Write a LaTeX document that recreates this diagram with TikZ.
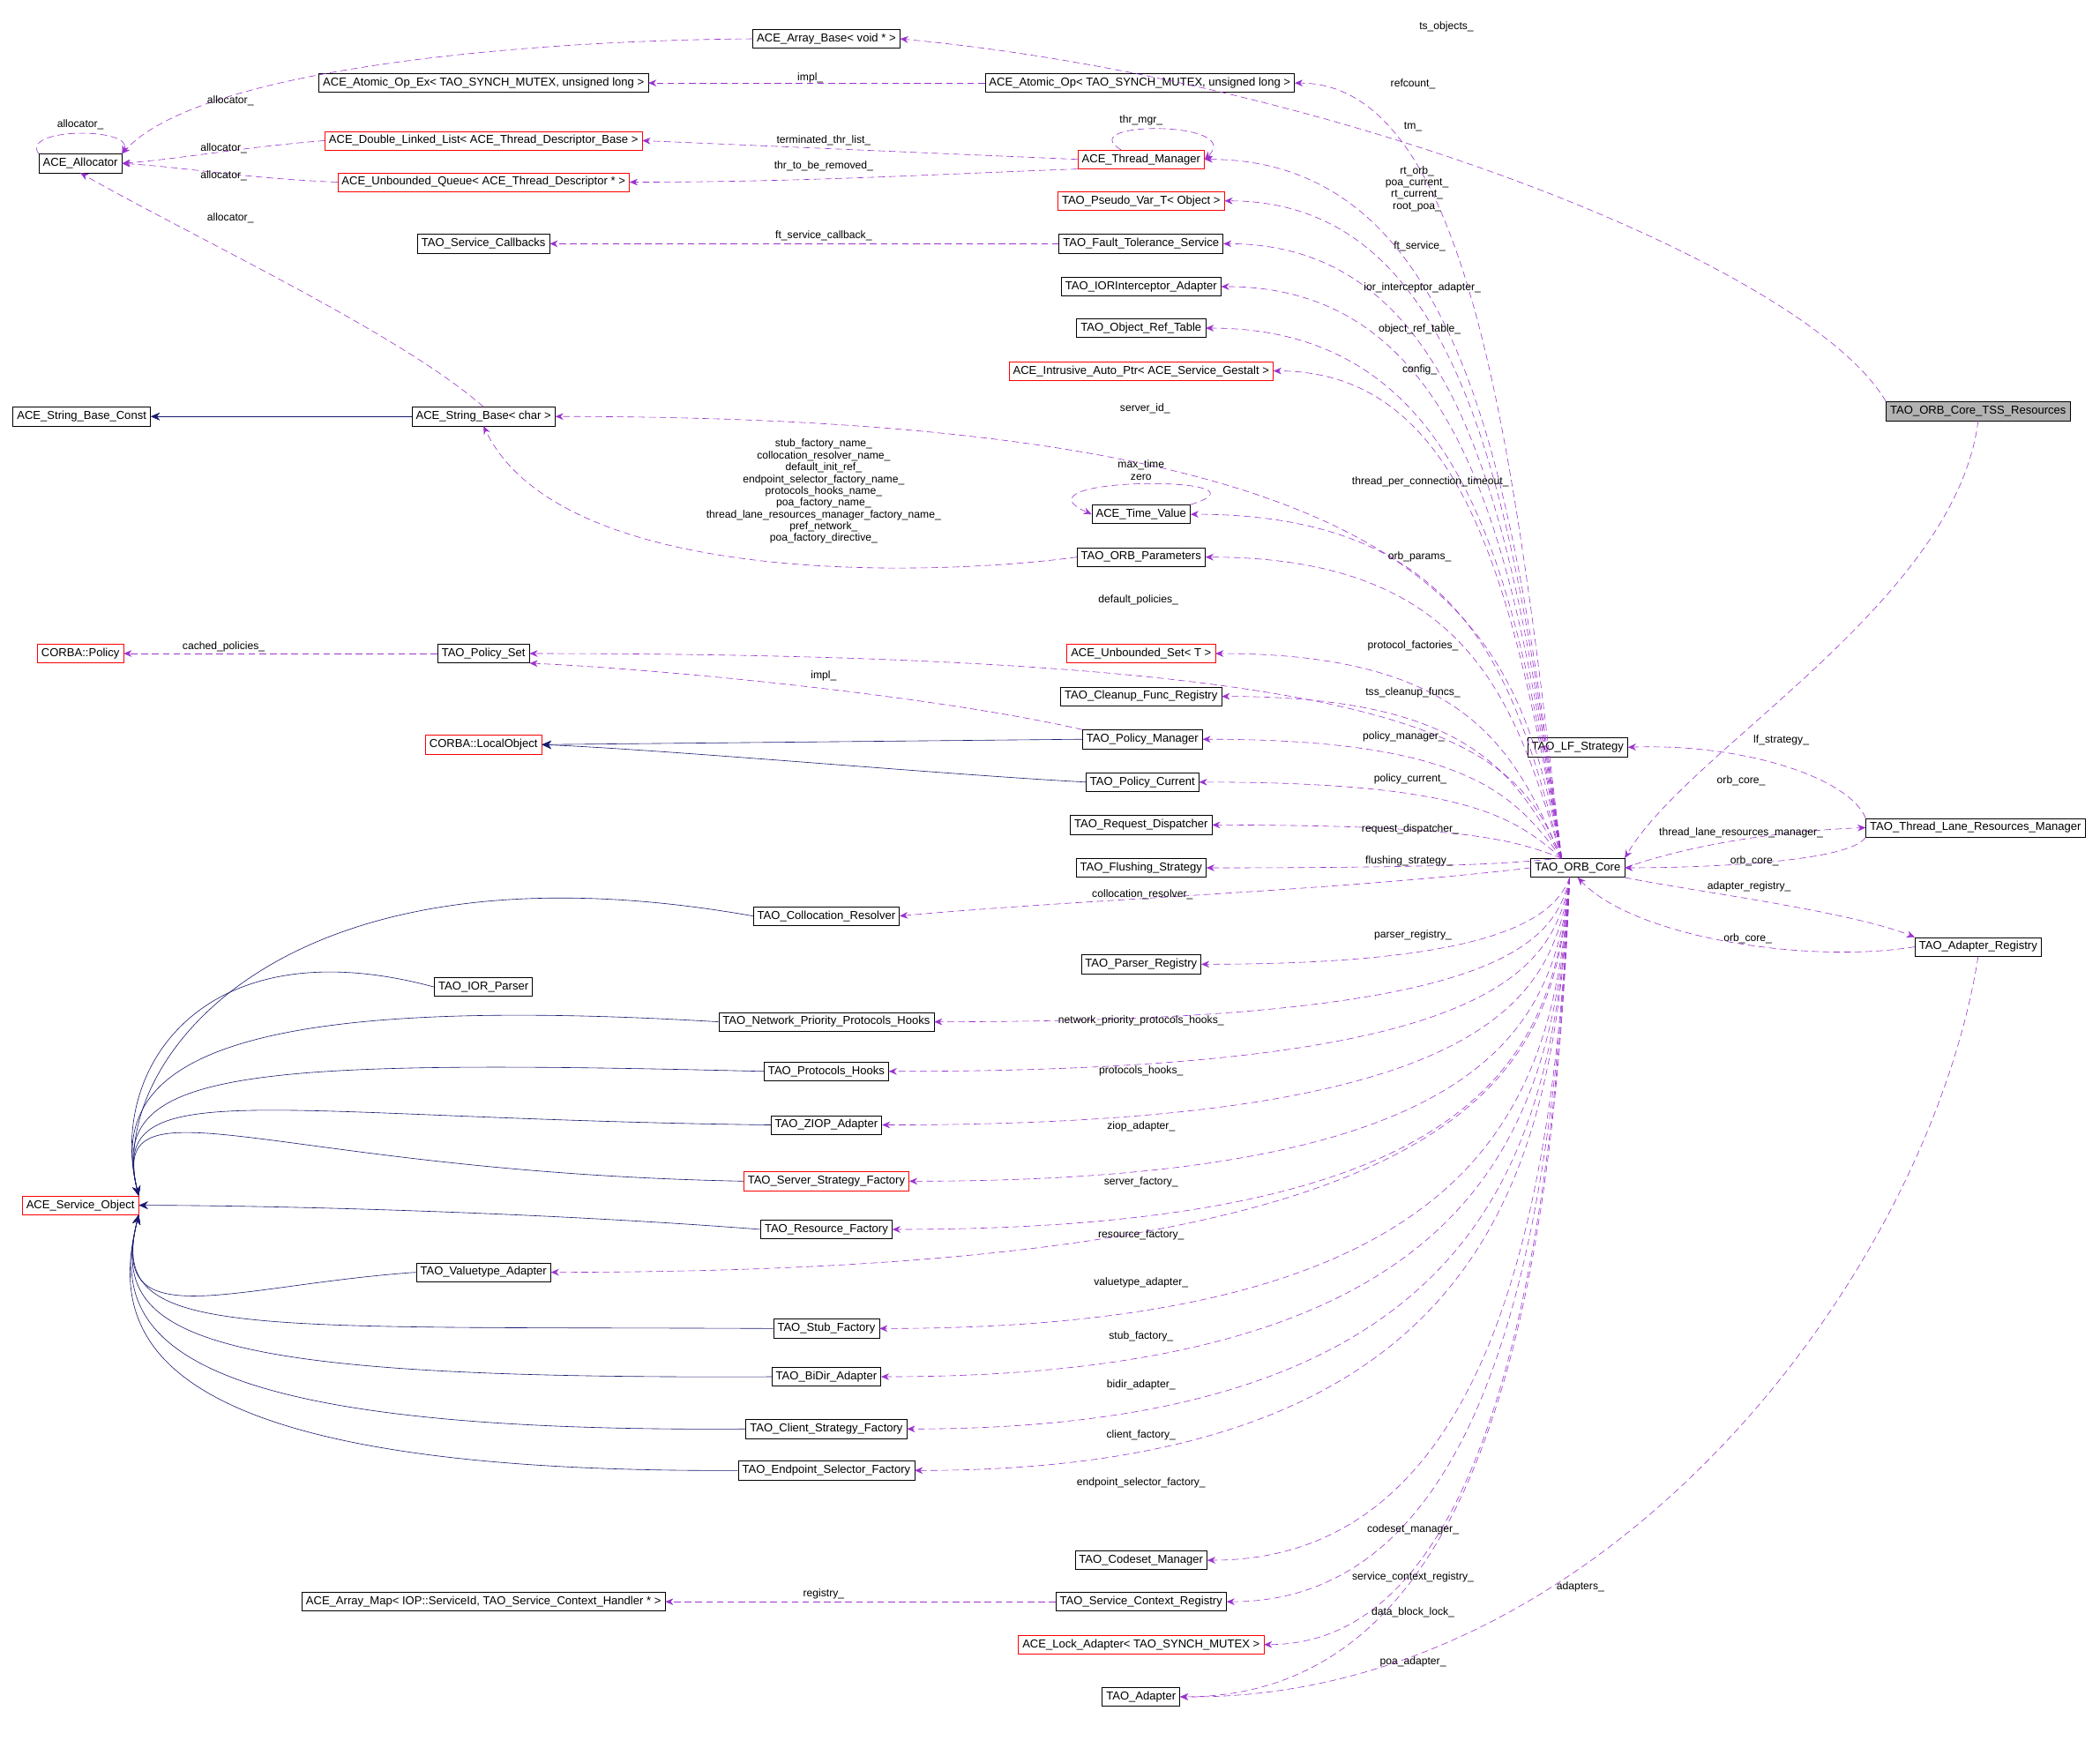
\documentclass[tikz,border=0pt]{standalone}
\usepackage{fontspec}
\setmainfont{Liberation Sans}
\usetikzlibrary{arrows.meta}
\definecolor{dep}{HTML}{9A32CD}
\definecolor{inh}{HTML}{191970}
\tikzset{
 bx/.style={draw=black,fill=white,font=\fontsize{8.6}{9.5}\selectfont,inner xsep=3pt,inner ysep=1pt,minimum height=14pt},
 rbx/.style={bx,draw=red},
 gbx/.style={bx,fill=black!30},
 dep/.style={draw=dep,dash pattern=on 5pt off 3pt,-{Stealth[length=6pt,width=5pt]}},
 inh/.style={draw=inh,-{Stealth[length=7pt,width=6pt]}},
 lb/.style={font=\fontsize{8}{8.8}\selectfont,inner sep=0.5pt,align=center}
}
\begin{document}
\begin{tikzpicture}[x=1pt,y=-1pt]
\useasboundingbox (0,0) rectangle (1568,1305);
% nodes
\node[bx] (arrbase) at (617,29) {ACE\_Array\_Base< void * >};
\node[bx] (atomex) at (361,62) {ACE\_Atomic\_Op\_Ex< TAO\_SYNCH\_MUTEX, unsigned long >};
\node[bx] (atom) at (851,62) {ACE\_Atomic\_Op< TAO\_SYNCH\_MUTEX, unsigned long >};
\node[bx] (alloc) at (60,122) {ACE\_Allocator};
\node[rbx] (dll) at (361,105) {ACE\_Double\_Linked\_List< ACE\_Thread\_Descriptor\_Base >};
\node[rbx] (uq) at (361,136) {ACE\_Unbounded\_Queue< ACE\_Thread\_Descriptor * >};
\node[rbx] (tm) at (852,119) {ACE\_Thread\_Manager};
\node[rbx] (pv) at (852,150) {TAO\_Pseudo\_Var\_T< Object >};
\node[bx] (scb) at (361,182) {TAO\_Service\_Callbacks};
\node[bx] (ft) at (852,182) {TAO\_Fault\_Tolerance\_Service};
\node[bx] (ior) at (852,214) {TAO\_IORInterceptor\_Adapter};
\node[bx] (ort) at (852,245) {TAO\_Object\_Ref\_Table};
\node[rbx] (iap) at (852,277) {ACE\_Intrusive\_Auto\_Ptr< ACE\_Service\_Gestalt >};
\node[bx] (sbc) at (61,311) {ACE\_String\_Base\_Const};
\node[bx] (sb) at (361,311) {ACE\_String\_Base< char >};
\node[gbx] (tss) at (1477,307) {TAO\_ORB\_Core\_TSS\_Resources};
\node[bx] (tv) at (852,384) {ACE\_Time\_Value};
\node[bx] (op) at (852,416) {TAO\_ORB\_Parameters};
\node[rbx] (cpol) at (60,488) {CORBA::Policy};
\node[bx] (ps) at (361,488) {TAO\_Policy\_Set};
\node[rbx] (us) at (852,488) {ACE\_Unbounded\_Set< T >};
\node[bx] (cf) at (852,520) {TAO\_Cleanup\_Func\_Registry};
\node[rbx] (lo) at (361,556) {CORBA::LocalObject};
\node[bx] (pm) at (853,552) {TAO\_Policy\_Manager};
\node[bx] (pc) at (853,584) {TAO\_Policy\_Current};
\node[bx] (lf) at (1178,558) {TAO\_LF\_Strategy};
\node[bx] (rd) at (852,616) {TAO\_Request\_Dispatcher};
\node[bx] (fs) at (852,648) {TAO\_Flushing\_Strategy};
\node[bx] (orb) at (1178,648) {TAO\_ORB\_Core};
\node[bx] (tlr) at (1475,618) {TAO\_Thread\_Lane\_Resources\_Manager};
\node[bx] (colr) at (617,684) {TAO\_Collocation\_Resolver};
\node[bx] (areg) at (1477,707) {TAO\_Adapter\_Registry};
\node[bx] (preg) at (852,720) {TAO\_Parser\_Registry};
\node[bx] (iorp) at (361,737) {TAO\_IOR\_Parser};
\node[bx] (npph) at (617,763) {TAO\_Network\_Priority\_Protocols\_Hooks};
\node[bx] (ph) at (617,800) {TAO\_Protocols\_Hooks};
\node[bx] (ziop) at (617,840) {TAO\_ZIOP\_Adapter};
\node[rbx] (ssf) at (617,882) {TAO\_Server\_Strategy\_Factory};
\node[rbx] (aso) at (60,900) {ACE\_Service\_Object};
\node[bx] (rf) at (617,918) {TAO\_Resource\_Factory};
\node[bx] (vta) at (361,950) {TAO\_Valuetype\_Adapter};
\node[bx] (stf) at (617,992) {TAO\_Stub\_Factory};
\node[bx] (bid) at (617,1028) {TAO\_BiDir\_Adapter};
\node[bx] (csf) at (617,1067) {TAO\_Client\_Strategy\_Factory};
\node[bx] (esf) at (617,1098) {TAO\_Endpoint\_Selector\_Factory};
\node[bx] (csm) at (852,1165) {TAO\_Codeset\_Manager};
\node[bx] (am) at (361,1196) {ACE\_Array\_Map< IOP::ServiceId, TAO\_Service\_Context\_Handler * >};
\node[bx] (scr) at (852,1196) {TAO\_Service\_Context\_Registry};
\node[rbx] (la) at (852,1228) {ACE\_Lock\_Adapter< TAO\_SYNCH\_MUTEX >};
\node[bx] (ad) at (852,1267) {TAO\_Adapter};

% inheritance
\draw[inh] (sb) -- (sbc);
\draw[inh] (pm.west) -- (lo.east);
\draw[inh] (pc.west) .. controls (700,578) and (500,560) .. (lo.east);
\foreach \n/\cx/\cy in {colr/200/620, iorp/150/690, npph/150/740, ph/170/790, ziop/190/835, ssf/200/875}
  \draw[inh] (\n.west) .. controls (\cx,\cy) and (80,800) .. (aso.north east);
\draw[inh] (rf.west) .. controls (400,905) and (200,900) .. (aso.east);
\foreach \n/\cx/\cy in {vta/170/960, stf/170/990, bid/150/1030, csf/130/1070, esf/110/1100}
  \draw[inh] (\n.west) .. controls (\cx,\cy) and (80,1000) .. (aso.south east);

% ORB dependencies above
\coordinate (orbt) at ([xshift=-12pt]orb.north);
\coordinate (orbb) at ([xshift=-6pt]orb.south);
\foreach \n/\y in {atom/62, tm/119, pv/150, ft/182, ior/214, ort/245, iap/277, sb/311, tv/384, op/416, ps/488, us/488, cf/520, pm/552, pc/584, rd/616, fs/648}{
  \pgfmathsetmacro\m{(640+\y)/2}
  \draw[dep] (orbt) .. controls (1132,\m) and (1100,\y) .. (\n.east);}
\draw[dep] (orb.west) .. controls (1000,665) and (800,672) .. (colr.east);
\foreach \n/\y in {preg/720, npph/763, ph/800, ziop/840, ssf/882, rf/918, vta/950, stf/992, bid/1028, csf/1067, esf/1098, csm/1165, scr/1196, la/1228, ad/1267}{
  \pgfmathsetmacro\m{(656+\y)/2}
  \draw[dep] (orbb) .. controls (1160,\m) and (1110,\y) .. (\n.east);}
% labels ORB
\node[lb] at (1055,63) {refcount\_};
\node[lb] at (1055,95) {tm\_};
\node[lb] at (1058,141) {rt\_orb\_\\poa\_current\_\\rt\_current\_\\root\_poa\_};
\node[lb] at (1060,184) {ft\_service\_};
\node[lb] at (1062,215) {ior\_interceptor\_adapter\_};
\node[lb] at (1060,246) {object\_ref\_table\_};
\node[lb] at (1060,276) {config\_};
\node[lb] at (855,305) {server\_id\_};
\node[lb] at (1068,360) {thread\_per\_connection\_timeout\_};
\node[lb] at (1060,416) {orb\_params\_};
\node[lb] at (850,448) {default\_policies\_};
\node[lb] at (1055,482) {protocol\_factories\_};
\node[lb] at (1055,517) {tss\_cleanup\_funcs\_};
\node[lb] at (1048,550) {policy\_manager\_};
\node[lb] at (1053,582) {policy\_current\_};
\node[lb] at (1053,619) {request\_dispatcher\_};
\node[lb] at (1052,643) {flushing\_strategy\_};
\node[lb] at (853,668) {collocation\_resolver\_};
\node[lb] at (1055,698) {parser\_registry\_};
\node[lb] at (852,762) {network\_priority\_protocols\_hooks\_};
\node[lb] at (852,800) {protocols\_hooks\_};
\node[lb] at (852,841) {ziop\_adapter\_};
\node[lb] at (852,883) {server\_factory\_};
\node[lb] at (852,922) {resource\_factory\_};
\node[lb] at (852,958) {valuetype\_adapter\_};
\node[lb] at (852,998) {stub\_factory\_};
\node[lb] at (852,1034) {bidir\_adapter\_};
\node[lb] at (852,1072) {client\_factory\_};
\node[lb] at (852,1107) {endpoint\_selector\_factory\_};
\node[lb] at (1055,1142) {codeset\_manager\_};
\node[lb] at (1055,1178) {service\_context\_registry\_};
\node[lb] at (1055,1204) {data\_block\_lock\_};
\node[lb] at (1055,1241) {poa\_adapter\_};

% right side
\draw[dep] (tss.south) .. controls (1460,450) and (1260,560) .. (orb.north east);
\node[lb] at (1300,583) {orb\_core\_};
\draw[dep] (tss.north west) .. controls (1350,200) and (1000,60) .. (arrbase.east);
\node[lb] at (1080,20) {ts\_objects\_};
\draw[dep] (tlr.north west) .. controls (1380,580) and (1300,555) .. (lf.east);
\node[lb] at (1330,553) {lf\_strategy\_};
\draw[dep] (orb.east) .. controls (1270,628) and (1340,620) .. (tlr.west);
\node[lb] at (1300,622) {thread\_lane\_resources\_manager\_};
\draw[dep] (tlr.south west) .. controls (1380,645) and (1260,648) .. (orb.east);
\node[lb] at (1310,643) {orb\_core\_};
\draw[dep] (orb.south east) .. controls (1260,665) and (1380,680) .. (areg.north west);
\node[lb] at (1306,662) {adapter\_registry\_};
\draw[dep] (areg.west) .. controls (1350,720) and (1220,700) .. (orb.south);
\node[lb] at (1305,701) {orb\_core\_};
\draw[dep] (areg.south) .. controls (1440,950) and (1200,1270) .. (ad.east);
\node[lb] at (1180,1185) {adapters\_};

% other deps
\draw[dep] (atom.west) -- (atomex.east);
\node[lb] at (605,58) {impl\_};
\draw[dep] (tm.west) -- (dll.east);
\node[lb] at (615,105) {terminated\_thr\_list\_};
\draw[dep] (tm.south west) .. controls (700,130) and (600,136) .. (uq.east);
\node[lb] at (615,124) {thr\_to\_be\_removed\_};
\draw[dep] ([xshift=-15pt]tm.north) .. controls (800,90) and (930,90) .. (tm.east);
\node[lb] at (852,90) {thr\_mgr\_};
\draw[dep] (dll.west) .. controls (180,110) and (140,118) .. (alloc.east);
\node[lb] at (167,111) {allocator\_};
\draw[dep] (uq.west) .. controls (180,133) and (140,125) .. (alloc.east);
\node[lb] at (167,131) {allocator\_};
\draw[dep] (arrbase.west) .. controls (400,30) and (150,50) .. (alloc.north east);
\node[lb] at (172,75) {allocator\_};
\draw[dep] (alloc.north west) .. controls (15,95) and (100,95) .. (alloc.north east);
\node[lb] at (60,93) {allocator\_};
\draw[dep] (sb.north) .. controls (300,250) and (150,180) .. (alloc.south);
\node[lb] at (172,163) {allocator\_};
\draw[dep] (ft.west) -- (scb.east);
\node[lb] at (615,176) {ft\_service\_callback\_};
\draw[dep] (op.west) .. controls (700,430) and (420,440) .. (sb.south);
\node[lb] at (615,367) {stub\_factory\_name\_\\collocation\_resolver\_name\_\\default\_init\_ref\_\\endpoint\_selector\_factory\_name\_\\protocols\_hooks\_name\_\\poa\_factory\_name\_\\thread\_lane\_resources\_manager\_factory\_name\_\\pref\_network\_\\poa\_factory\_directive\_};
\draw[dep] (tv.north east) .. controls (960,355) and (750,355) .. (tv.west);
\node[lb] at (852,351) {max\_time\\zero};
\draw[dep] (ps.west) -- (cpol.east);
\node[lb] at (167,483) {cached\_policies\_};
\draw[dep] (pm.north west) .. controls (700,520) and (500,500) .. (ps.south east);
\node[lb] at (615,505) {impl\_};
\draw[dep] (scr.west) -- (am.east);
\node[lb] at (615,1190) {registry\_};
\end{tikzpicture}
\end{document}
